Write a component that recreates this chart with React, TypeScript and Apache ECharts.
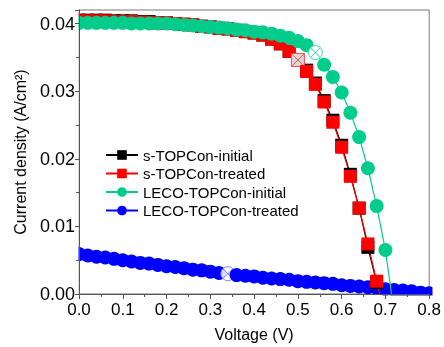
import React, { useEffect, useRef } from "react";
import * as echarts from "echarts";

const voltage = [
  0.0, 0.02, 0.04, 0.06, 0.08, 0.1, 0.12, 0.14, 0.16, 0.18, 0.2, 0.22, 0.24, 0.26,
  0.28, 0.3, 0.32, 0.34, 0.36, 0.38, 0.4, 0.42, 0.44, 0.46, 0.48, 0.5, 0.52, 0.54,
  0.56, 0.58, 0.6, 0.62, 0.64, 0.66, 0.68, 0.7, 0.72, 0.74, 0.76, 0.78, 0.8,
];

const sInitial = [
  0.0405, 0.0405, 0.0405, 0.0405, 0.0404, 0.0404, 0.0404, 0.0403, 0.0403, 0.0401,
  0.0401, 0.04, 0.0399, 0.0398, 0.0396, 0.0395, 0.0393, 0.0392, 0.039, 0.0388,
  0.0386, 0.0383, 0.0377, 0.037, 0.0359, 0.0346, 0.0331, 0.0312, 0.0286, 0.0257,
  0.022, 0.0177, 0.0127, 0.0069, 0.0017,
];

const sTreated = [
  0.0404, 0.0404, 0.0404, 0.0404, 0.0403, 0.0403, 0.0403, 0.0402, 0.0402, 0.0401,
  0.0401, 0.04, 0.0399, 0.0398, 0.0396, 0.0395, 0.0393, 0.0392, 0.039, 0.0388,
  0.0386, 0.0383, 0.0377, 0.037, 0.0359, 0.0346, 0.0329, 0.031, 0.0284, 0.0254,
  0.0217, 0.0174, 0.0127, 0.0074, 0.0019,
];

const lecoInitial = [
  0.0401, 0.0401, 0.0401, 0.0401, 0.0401, 0.0401, 0.04, 0.04, 0.04, 0.04, 0.04,
  0.0399, 0.0398, 0.0397, 0.0396, 0.0395, 0.0394, 0.0393, 0.0391, 0.039, 0.0388,
  0.0387, 0.0385, 0.0382, 0.0379, 0.0374, 0.0368, 0.0357, 0.0339, 0.0321, 0.0298,
  0.0268, 0.0232, 0.0186, 0.013, 0.0065,
];

const lecoTreated = [
  0.0059, 0.0057, 0.0055, 0.0054, 0.0052, 0.005, 0.0048, 0.0046, 0.0045, 0.0043,
  0.0041, 0.004, 0.0038, 0.0036, 0.0035, 0.0033, 0.0031, 0.003, 0.0028, 0.0027,
  0.0026, 0.0024, 0.0023, 0.0022, 0.0021, 0.0019, 0.0018, 0.0017, 0.0016, 0.0015,
  0.0013, 0.0012, 0.0011, 0.001, 0.0009, 0.0007, 0.0006, 0.0005, 0.0004, 0.0002,
  0.0001,
];

// zero-crossing voltages where the lines meet the axis
const sInitialVoc = 0.687;
const sTreatedVoc = 0.687;
const lecoInitialVoc = 0.714;

// indices of masked (crossed) points
const sTreatedMasked = 25;
const lecoInitialMasked = 27;
const lecoTreatedMasked = 17;

const seriesNames = [
  "s-TOPCon-initial",
  "s-TOPCon-treated",
  "LECO-TOPCon-initial",
  "LECO-TOPCon-treated",
];

const FONT = "'Liberation Sans', Arial, sans-serif";
const SQ_X = "path://M0 0H10V10H0Z M0 0L10 10 M10 0L0 10";
const CIR_X =
  "path://M10 5A5 5 0 1 1 0 5A5 5 0 1 1 10 5Z M1.46 1.46L8.54 8.54 M8.54 1.46L1.46 8.54";

function build(values: number[], maskIdx: number, maskSym: string, maskColor: string, voc?: number) {
  const d: any[] = values.map((y, i) => {
    if (i === maskIdx) {
      return {
        value: [voltage[i], y],
        symbol: maskSym,
        itemStyle: { color: "rgba(255,255,255,0.85)", borderColor: maskColor, borderWidth: 1 },
      };
    }
    return [voltage[i], y];
  });
  if (voc !== undefined) d.push({ value: [voc, 0], symbol: "none" });
  return d;
}

export default function App() {
  const ref = useRef<HTMLDivElement>(null);
  useEffect(() => {
    if (!ref.current) return;
    const chart = echarts.init(ref.current, null, { renderer: "svg" });
    const axisColor = "#555";
    chart.setOption({
      animation: false,
      textStyle: { fontFamily: FONT },
      grid: {
        left: 79,
        right: 12,
        top: 10,
        bottom: 52,
        show: true,
        borderColor: "#777",
        borderWidth: 1,
        z: 0,
      },
      legend: {
        data: seriesNames,
        orient: "vertical",
        left: 100,
        top: 142,
        itemWidth: 32,
        itemHeight: 12,
        itemGap: 2.5,
        textStyle: { fontFamily: FONT, fontSize: 15, color: "#000", lineHeight: 16 },
      },
      xAxis: {
        type: "value",
        min: 0,
        max: 0.8,
        interval: 0.1,
        z: 10,
        name: "Voltage (V)",
        nameLocation: "middle",
        nameGap: 32,
        nameTextStyle: { fontFamily: FONT, fontSize: 16, color: "#000" },
        axisLine: { show: true, lineStyle: { color: axisColor, width: 1 } },
        axisTick: { show: true, inside: false, length: 5, lineStyle: { color: axisColor } },
        minorTick: { show: true, splitNumber: 2, length: 3, lineStyle: { color: axisColor } },
        splitLine: { show: false },
        axisLabel: {
          fontFamily: FONT,
          fontSize: 17,
          color: "#000",
          margin: 7,
          formatter: (v: number) => v.toFixed(1),
        },
      },
      yAxis: {
        type: "value",
        min: 0,
        max: 0.042,
        interval: 0.01,
        z: 10,
        name: "Current density (A/cm²)",
        nameLocation: "middle",
        nameGap: 51,
        nameTextStyle: { fontFamily: FONT, fontSize: 16, color: "#000" },
        axisLine: { show: true, lineStyle: { color: axisColor, width: 1 } },
        axisTick: { show: true, inside: false, length: 4, lineStyle: { color: axisColor } },
        minorTick: { show: true, splitNumber: 2, length: 3, lineStyle: { color: axisColor } },
        splitLine: { show: false },
        axisLabel: {
          fontFamily: FONT,
          fontSize: 18,
          color: "#000",
          margin: 4,
          formatter: (v: number) =>
            Math.abs(v * 100 - Math.round(v * 100)) < 1e-6 ? v.toFixed(2) : "",
        },
      },
      graphic: [
        { type: "rect", z: 5, shape: { x: 0, y: 0, width: 78.5, height: 347 }, style: { fill: "#fff" } },
        { type: "rect", z: 5, shape: { x: 432.5, y: 0, width: 20, height: 347 }, style: { fill: "#fff" } },
        { type: "rect", z: 5, shape: { x: 0, y: 295.5, width: 444, height: 60 }, style: { fill: "#fff" } },
      ],
      series: [
        {
          name: seriesNames[3],
          type: "line",
          z: 2,
          symbol: "circle",
          symbolSize: 14,
          color: "#0000ff",
          lineStyle: { width: 1.2, color: "#0000ff" },
          data: build(lecoTreated, lecoTreatedMasked, CIR_X, "#8080ff"),
        },
        {
          name: seriesNames[0],
          type: "line",
          z: 3,
          symbol: "rect",
          symbolSize: 13,
          color: "#000000",
          lineStyle: { width: 1.2, color: "#000" },
          data: build(sInitial, -1, SQ_X, "#000", sInitialVoc),
        },
        {
          name: seriesNames[1],
          type: "line",
          z: 3,
          symbol: "rect",
          symbolSize: 13,
          color: "#ff0000",
          lineStyle: { width: 1.2, color: "#ff0000" },
          data: build(sTreated, sTreatedMasked, SQ_X, "#ff5050", sTreatedVoc),
        },
        {
          name: seriesNames[2],
          type: "line",
          z: 4,
          symbol: "circle",
          symbolSize: 14,
          color: "#00cc8c",
          lineStyle: { width: 1.2, color: "#00cc8c" },
          data: build(lecoInitial, lecoInitialMasked, CIR_X, "#40d8a8", lecoInitialVoc),
        },
      ],
    });
    return () => chart.dispose();
  }, []);
  return (
    <div
      ref={ref}
      style={{ position: "fixed", left: 0, top: 0, width: 444, height: 347 }}
    />
  );
}
